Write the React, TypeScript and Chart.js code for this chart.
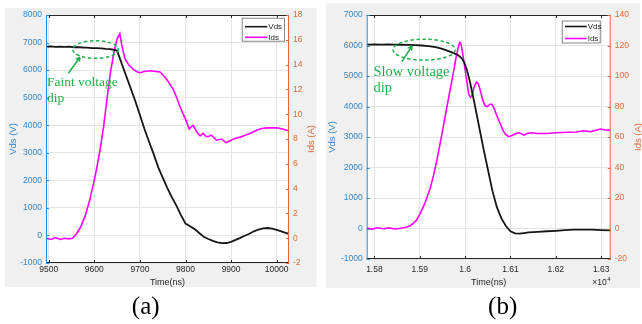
import React, { useEffect, useRef } from "react";
import { Chart, registerables } from "chart.js";

Chart.register(...registerables);

// ---------------- data: panel (a) ----------------
const seriesLabels = ["Vds", "Ids"];
const xTitle = "Time(ns)";
const yLeftTitle = "Vds (V)";
const yRightTitle = "Ids (A)";

const timeVdsA = [9494, 9505, 9515, 9525, 9535, 9545, 9555, 9565, 9575, 9585, 9595, 9605, 9615, 9625, 9635, 9645, 9650, 9660, 9670, 9680, 9690, 9700, 9710, 9720, 9730, 9740, 9750, 9760, 9770, 9780, 9790, 9800, 9810, 9820, 9830, 9840, 9850, 9860, 9870, 9880, 9890, 9900, 9910, 9920, 9930, 9940, 9950, 9960, 9970, 9980, 9990, 10000, 10010, 10020, 10027];
const vdsA = [6850, 6860, 6845, 6855, 6840, 6850, 6830, 6835, 6820, 6815, 6800, 6795, 6790, 6770, 6760, 6730, 6700, 6240, 5780, 5330, 4870, 4370, 3860, 3400, 2960, 2480, 2100, 1730, 1390, 1080, 740, 430, 330, 230, 90, -50, -130, -195, -250, -280, -275, -230, -160, -90, -10, 60, 150, 215, 255, 270, 250, 200, 150, 90, 50];
const timeIdsA = [9494, 9505, 9515, 9525, 9535, 9545, 9552, 9560, 9570, 9580, 9590, 9600, 9605, 9612, 9620, 9627, 9635, 9642, 9650, 9656, 9660, 9667, 9675, 9686, 9695, 9700, 9710, 9722, 9735, 9744, 9752, 9759, 9766, 9773, 9780, 9788, 9795, 9800, 9808, 9813, 9817, 9824, 9832, 9839, 9845, 9850, 9857, 9868, 9879, 9889, 9905, 9920, 9934, 9945, 9956, 9967, 9978, 9990, 10000, 10013, 10027];
const idsA = [0, -0.1, 0.05, -0.1, 0, -0.05, 0, 0.3, 0.9, 1.8, 3.1, 4.7, 5.6, 7.0, 8.9, 11.0, 13.3, 14.8, 16.1, 16.5, 15.6, 14.5, 14.0, 13.6, 13.4, 13.35, 13.45, 13.5, 13.45, 13.4, 13.1, 12.8, 12.4, 12.0, 11.4, 10.6, 10.0, 9.6, 8.8, 9.0, 9.1, 8.6, 8.25, 8.45, 8.2, 8.2, 8.3, 7.9, 8.0, 7.7, 8.0, 8.15, 8.35, 8.5, 8.7, 8.85, 8.9, 8.9, 8.9, 8.8, 8.65];
const xTicksA = [9500, 9600, 9700, 9800, 9900, 10000];
const vTicksA = [-1000, 0, 1000, 2000, 3000, 4000, 5000, 6000, 7000, 8000];
const iTicksA = [-2, 0, 2, 4, 6, 8, 10, 12, 14, 16, 18];
const noteA = ["Faint voltage", "dip"];
const captionA = "(a)";

// ---------------- data: panel (b) ----------------
const timeVdsB = [15783, 15800, 15815, 15830, 15845, 15860, 15875, 15890, 15905, 15920, 15935, 15950, 15965, 15975, 15985, 15992, 15998, 16004, 16010, 16020, 16030, 16040, 16050, 16060, 16070, 16080, 16090, 16100, 16110, 16120, 16130, 16140, 16160, 16180, 16200, 16220, 16240, 16260, 16280, 16300, 16321];
const vdsB = [6030, 6035, 6028, 6032, 6030, 6025, 6022, 6015, 6000, 5980, 5950, 5890, 5810, 5750, 5680, 5590, 5450, 5200, 4850, 4150, 3400, 2650, 1950, 1250, 700, 330, 80, -90, -160, -170, -150, -130, -110, -90, -75, -55, -40, -35, -40, -50, -60];
const timeIdsB = [15783, 15795, 15808, 15820, 15832, 15845, 15858, 15870, 15879, 15886, 15893, 15900, 15908, 15915, 15923, 15930, 15938, 15945, 15952, 15960, 15967, 15974, 15980, 15985, 15988, 15991, 15995, 16000, 16004, 16008, 16012, 16016, 16020, 16025, 16029, 16033, 16039, 16044, 16049, 16055, 16059, 16063, 16070, 16077, 16084, 16090, 16096, 16102, 16107, 16113, 16120, 16125, 16130, 16137, 16144, 16160, 16181, 16200, 16225, 16245, 16260, 16275, 16290, 16298, 16310, 16321];
const idsB = [0.3, -0.4, 0.5, -0.2, 0.4, -0.3, 0.2, 0.8, 1.8, 3.3, 5.6, 9.3, 14.3, 19.5, 26.4, 34.5, 45, 56, 67, 80, 91, 102, 112, 119, 122, 121, 114, 104, 96, 88, 86, 88, 93, 96, 95, 91, 84, 80.5, 80, 81.5, 81.5, 79.5, 74, 69, 64, 61.5, 60.2, 60.8, 61.5, 62.5, 62.8, 62, 61.3, 62.3, 62.8, 62.3, 62.3, 62.8, 63.1, 63.3, 64.1, 63.5, 64.5, 65.2, 64.6, 64.5];
const xTicksB = [15800, 15900, 16000, 16100, 16200, 16300];
const vTicksB = [-1000, 0, 1000, 2000, 3000, 4000, 5000, 6000, 7000];
const iTicksB = [-20, 0, 20, 40, 60, 80, 100, 120, 140];
const noteB = ["Slow voltage", "dip"];
const captionB = "(b)";
const xExponentB = ["×10", "4"];

// ---------------- styling / layout ----------------
const BLUE = "#3587c9";
const ORANGE = "#dc6a38";
const DARK = "#262626";
const GREEN = "#22b04a";
const SANS = '"Liberation Sans", Arial, Helvetica, sans-serif';
const SERIF = '"Liberation Serif", "Times New Roman", serif';

const zip = (xs: number[], ys: number[]) => xs.map((x, i) => ({ x, y: ys[i] }));

const panels = [
  {
    key: "a",
    left: 0,
    width: 321,
    area: { left: 46, right: 289, top: 15, bottom: 263 },
    bg: { x: 5, y: 8, w: 311.5, h: 279 },
    xMin: 9494, xMax: 10027, xTicks: xTicksA, xFmt: (v: number) => String(v), xPad: 1.6,
    vMin: -1000, vMax: 8000, vTicks: vTicksA,
    iMin: -2, iMax: 18, iTicks: iTicksA,
    vds: zip(timeVdsA, vdsA), ids: zip(timeIdsA, idsA),
    legend: { rightInset: 4, top: 2.7, w: 43.3, h: 24, r1: 9, r2: 19.6, line0: 3.3, line1: 25.6 },
    leftTitleX: 13.5, rightTitleX: 311.7, xTitleY: 283,
    note: noteA, noteFont: 13.5,
    ellipse: { t: 9602.6, v: 6748, rt: 50, rv: 319 },
    arrow: { t0: 9543, v0: 5885, t1: 9568.6, v1: 6465 },
    noteAt: { t: 9496, v1: 5424, v2: 4854 },
    caption: captionA, captionX: 145.7, captionY: 314,
    exponent: null as null | string[],
  },
  {
    key: "b",
    left: 320,
    width: 322,
    area: { left: 46.7, right: 290.7, top: 15, bottom: 259 },
    bg: { x: 6, y: 3, w: 314, h: 285 },
    xMin: 15783, xMax: 16321, xTicks: xTicksB, xFmt: (v: number) => String(+(v / 10000).toFixed(2)), xPad: 5.4,
    vMin: -1000, vMax: 7000, vTicks: vTicksB,
    iMin: -20, iMax: 140, iTicks: iTicksB,
    vds: zip(timeVdsB, vdsB), ids: zip(timeIdsB, idsB),
    legend: { rightInset: 10, top: 5.5, w: 39, h: 23, r1: 6, r2: 18, line0: 3.3, line1: 25 },
    leftTitleX: 12.3, rightTitleX: 318.3, xTitleY: 283,
    note: noteB, noteFont: 14.5,
    ellipse: { t: 15909.6, v: 5862, rt: 68.4, rv: 344 },
    arrow: { t0: 15860.4, v0: 5469, t1: 15883, v1: 5984 },
    noteAt: { t: 15797.8, v1: 5000, v2: 4485 },
    caption: captionB, captionX: 182.7, captionY: 314,
    exponent: xExponentB,
  },
];

type P = (typeof panels)[number];

function makeOverlay(p: P) {
  return {
    id: "overlay_" + p.key,
    beforeDraw(chart: any) {
      const { ctx, chartArea: a } = chart;
      ctx.save();
      ctx.fillStyle = "#f0f0f0";
      ctx.fillRect(p.bg.x, p.bg.y, p.bg.w, p.bg.h);
      ctx.fillStyle = "#ffffff";
      ctx.fillRect(a.left, a.top, a.right - a.left, a.bottom - a.top);
      ctx.restore();
    },
    afterDraw(chart: any) {
      const { ctx, chartArea: a } = chart;
      const xs = chart.scales.x;
      const yl = chart.scales.yL;
      const yr = chart.scales.yR;
      ctx.save();

      // axes box
      ctx.lineWidth = 1;
      ctx.strokeStyle = DARK;
      ctx.beginPath();
      ctx.moveTo(a.left, a.top + 0.5); ctx.lineTo(a.right, a.top + 0.5);
      ctx.moveTo(a.left, a.bottom - 0.5); ctx.lineTo(a.right, a.bottom - 0.5);
      ctx.stroke();
      // inner x ticks
      ctx.beginPath();
      p.xTicks.forEach((t) => {
        const x = Math.round(xs.getPixelForValue(t)) + 0.5;
        ctx.moveTo(x, a.bottom); ctx.lineTo(x, a.bottom - 3);
        ctx.moveTo(x, a.top); ctx.lineTo(x, a.top + 3);
      });
      ctx.stroke();
      // left axis
      ctx.strokeStyle = BLUE;
      ctx.beginPath();
      ctx.moveTo(a.left + 0.5, a.top); ctx.lineTo(a.left + 0.5, a.bottom);
      p.vTicks.forEach((v) => {
        const y = Math.round(yl.getPixelForValue(v)) + 0.5;
        ctx.moveTo(a.left, y); ctx.lineTo(a.left + 3, y);
      });
      ctx.stroke();
      // right axis
      ctx.strokeStyle = ORANGE;
      ctx.beginPath();
      ctx.moveTo(a.right - 0.5, a.top); ctx.lineTo(a.right - 0.5, a.bottom);
      p.iTicks.forEach((v) => {
        const y = Math.round(yr.getPixelForValue(v)) + 0.5;
        ctx.moveTo(a.right, y); ctx.lineTo(a.right - 3, y);
      });
      ctx.stroke();

      // legend
      const L = p.legend;
      const lx = a.right - L.rightInset - L.w;
      const ly = a.top + L.top;
      ctx.fillStyle = "#ffffff";
      ctx.fillRect(lx, ly, L.w, L.h);
      ctx.strokeStyle = "#6a6a6a";
      ctx.lineWidth = 0.8;
      ctx.strokeRect(lx + 0.5, ly + 0.5, L.w - 1, L.h - 1);
      const ds = chart.data.datasets;
      [L.r1, L.r2].forEach((r, i) => {
        ctx.strokeStyle = ds[i].borderColor;
        ctx.lineWidth = 1.6;
        ctx.beginPath();
        ctx.moveTo(lx + L.line0, ly + r);
        ctx.lineTo(lx + L.line1, ly + r);
        ctx.stroke();
        ctx.fillStyle = DARK;
        ctx.font = `8px ${SANS}`;
        ctx.textAlign = "left";
        ctx.textBaseline = "middle";
        ctx.fillText(ds[i].label, lx + L.line1 + 1, ly + r);
      });

      // annotation ellipse
      const cx = xs.getPixelForValue(p.ellipse.t);
      const cy = yl.getPixelForValue(p.ellipse.v);
      const rx = Math.abs(xs.getPixelForValue(p.ellipse.t + p.ellipse.rt) - cx);
      const ry = Math.abs(yl.getPixelForValue(p.ellipse.v + p.ellipse.rv) - cy);
      ctx.strokeStyle = GREEN;
      ctx.lineWidth = 1.5;
      ctx.setLineDash([3.5, 2.5]);
      ctx.beginPath();
      ctx.ellipse(cx, cy, rx, ry, 0, 0, Math.PI * 2);
      ctx.stroke();
      ctx.setLineDash([]);
      // arrow
      const ax0 = xs.getPixelForValue(p.arrow.t0), ay0 = yl.getPixelForValue(p.arrow.v0);
      const ax1 = xs.getPixelForValue(p.arrow.t1), ay1 = yl.getPixelForValue(p.arrow.v1);
      ctx.lineWidth = 1.5;
      ctx.beginPath();
      ctx.moveTo(ax0, ay0); ctx.lineTo(ax1, ay1);
      const ang = Math.atan2(ay1 - ay0, ax1 - ax0);
      const hl = 4.5;
      ctx.moveTo(ax1, ay1); ctx.lineTo(ax1 - hl * Math.cos(ang - 0.5), ay1 - hl * Math.sin(ang - 0.5));
      ctx.moveTo(ax1, ay1); ctx.lineTo(ax1 - hl * Math.cos(ang + 0.5), ay1 - hl * Math.sin(ang + 0.5));
      ctx.stroke();
      // note text
      ctx.fillStyle = GREEN;
      ctx.font = `${p.noteFont}px ${SERIF}`;
      ctx.textAlign = "left";
      ctx.textBaseline = "alphabetic";
      const tx = xs.getPixelForValue(p.noteAt.t);
      ctx.fillText(p.note[0], tx, yl.getPixelForValue(p.noteAt.v1));
      ctx.fillText(p.note[1], tx, yl.getPixelForValue(p.noteAt.v2));

      // axis titles
      const midY = (a.top + a.bottom) / 2;
      ctx.font = `9.5px ${SANS}`;
      ctx.textAlign = "center";
      ctx.textBaseline = "middle";
      ctx.fillStyle = BLUE;
      ctx.save();
      ctx.translate(p.leftTitleX, midY);
      ctx.rotate(-Math.PI / 2);
      ctx.fillText(yLeftTitle, 0, 0);
      ctx.restore();
      ctx.fillStyle = ORANGE;
      ctx.save();
      ctx.translate(p.rightTitleX, midY);
      ctx.rotate(-Math.PI / 2);
      ctx.fillText(yRightTitle, 0, 0);
      ctx.restore();
      ctx.fillStyle = DARK;
      ctx.font = `9px ${SANS}`;
      ctx.fillText(xTitle, (a.left + a.right) / 2, p.xTitleY);

      // exponent
      if (p.exponent) {
        ctx.font = `8.5px ${SANS}`;
        ctx.textAlign = "right";
        ctx.fillStyle = DARK;
        const ex = a.right - 4;
        ctx.fillText(p.exponent[0], ex, p.xTitleY);
        ctx.font = `6px ${SANS}`;
        ctx.textAlign = "left";
        ctx.fillText(p.exponent[1], ex + 0.5, p.xTitleY - 4);
      }

      // caption
      ctx.fillStyle = "#000000";
      ctx.font = `25px ${SERIF}`;
      ctx.textAlign = "center";
      ctx.textBaseline = "alphabetic";
      ctx.fillText(p.caption, p.captionX, p.captionY);
      ctx.restore();
    },
  };
}

function Panel({ p }: { p: P }) {
  const ref = useRef<HTMLCanvasElement | null>(null);
  useEffect(() => {
    if (!ref.current) return;
    const H = 324;
    const tickFont = { family: SANS, size: 8.5 };
    const plain = (v: any) => String(Number(v));
    const chart = new Chart(ref.current, {
      type: "line",
      data: {
        datasets: [
          { label: seriesLabels[0], data: p.vds, yAxisID: "yL", borderColor: "#161616", borderWidth: 1.8, pointRadius: 0, tension: 0, fill: false },
          { label: seriesLabels[1], data: p.ids, yAxisID: "yR", borderColor: "#ff00ff", borderWidth: 1.6, pointRadius: 0, tension: 0, fill: false },
        ],
      },
      options: {
        responsive: false,
        animation: false,
        events: [],
        layout: { padding: { left: 0, right: 0, top: p.area.top, bottom: 0 } },
        plugins: { legend: { display: false }, tooltip: { enabled: false } },
        scales: {
          x: {
            type: "linear",
            position: "bottom",
            min: p.xMin,
            max: p.xMax,
            afterBuildTicks: (s: any) => { s.ticks = p.xTicks.map((value) => ({ value })); },
            afterFit: (s: any) => { s.height = H - p.area.bottom; },
            ticks: { autoSkip: false, maxRotation: 0, font: tickFont, color: DARK, padding: p.xPad, callback: (v: any) => p.xFmt(Number(v)) },
            grid: { color: "#e4e4e4", lineWidth: 1, drawTicks: false },
            border: { display: false },
          },
          yL: {
            type: "linear",
            position: "left",
            min: p.vMin,
            max: p.vMax,
            afterBuildTicks: (s: any) => { s.ticks = p.vTicks.map((value) => ({ value })); },
            afterFit: (s: any) => { s.width = p.area.left; },
            ticks: { autoSkip: false, font: tickFont, color: BLUE, padding: 4, callback: plain },
            grid: { color: "#e4e4e4", lineWidth: 1, drawTicks: false },
            border: { display: false },
          },
          yR: {
            type: "linear",
            position: "right",
            min: p.iMin,
            max: p.iMax,
            afterBuildTicks: (s: any) => { s.ticks = p.iTicks.map((value) => ({ value })); },
            afterFit: (s: any) => { s.width = p.width - p.area.right; },
            ticks: { autoSkip: false, font: tickFont, color: ORANGE, padding: 4, callback: plain },
            grid: { display: false, drawTicks: false },
            border: { display: false },
          },
        },
      } as any,
      plugins: [makeOverlay(p)],
    });
    return () => chart.destroy();
  }, []);
  return (
    <canvas
      ref={ref}
      width={p.width}
      height={324}
      style={{ position: "absolute", left: p.left, top: 0, width: p.width, height: 324 }}
    />
  );
}

export default function App() {
  return (
    <div style={{ position: "fixed", left: 0, top: 0, width: 642, height: 324, background: "#ffffff", overflow: "hidden" }}>
      {panels.map((p) => (
        <Panel key={p.key} p={p} />
      ))}
    </div>
  );
}
